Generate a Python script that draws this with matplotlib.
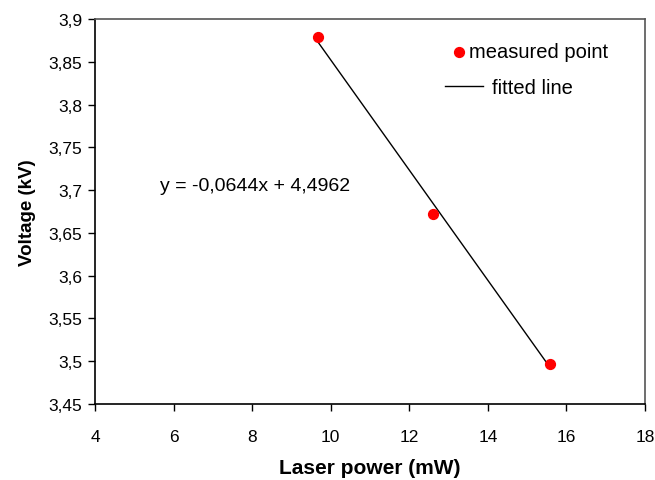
import numpy as np
import matplotlib.pyplot as plt
from matplotlib.ticker import FuncFormatter

plt.rcParams['font.family'] = ['Liberation Sans', 'DejaVu Sans']

# measured data
power = [9.67, 12.6, 15.57]
voltage = [3.879, 3.672, 3.497]

# fit from the chart
slope = -0.0644
intercept = 4.4962
fit_x = np.array([power[0], power[-1]])
fit_y = slope * fit_x + intercept

xticks = [4, 6, 8, 10, 12, 14, 16, 18]
yticks = [3.45, 3.5, 3.55, 3.6, 3.65, 3.7, 3.75, 3.8, 3.85, 3.9]

W, H = 655, 481
fig = plt.figure(figsize=(W / 100, H / 100), dpi=100)
ax = fig.add_axes([95 / W, 1 - 405 / H, 550 / W, 385 / H])

line, = ax.plot(fit_x, fit_y, color='black', linewidth=1, zorder=2)
dots = ax.scatter(power, voltage, color='red', s=50, zorder=3)

ax.set_xlim(4, 18)
ax.set_ylim(3.45, 3.9)
ax.set_xticks(xticks)
ax.set_yticks(yticks)

comma = FuncFormatter(lambda v, p: ('%g' % v).replace('.', ','))
ax.xaxis.set_major_formatter(comma)
ax.yaxis.set_major_formatter(comma)
ax.tick_params(direction='out', length=5, width=1, labelsize=12.5, colors='black')
ax.tick_params(axis='x', pad=13)
ax.tick_params(axis='y', pad=4)

for s in ['left', 'bottom']:
    ax.spines[s].set_color('black')
    ax.spines[s].set_linewidth(1.2)
for s in ['top', 'right']:
    ax.spines[s].set_color('#555555')
    ax.spines[s].set_linewidth(1.2)

ax.set_xlabel('Laser power (mW)', fontsize=15, fontweight='bold', labelpad=10)
ax.set_ylabel('Voltage (kV)', fontsize=13.5, fontweight='bold', labelpad=9)

ax.text(5.65, 3.705, 'y = -0,0644x + 4,4962', fontsize=14, va='center', ha='left')

# legend entries laid out like the original
leg1 = ax.legend([dots], ['measured point'], loc='center left',
                 bbox_to_anchor=(451 / W, 1 - 53 / H), bbox_transform=fig.transFigure,
                 frameon=False, fontsize=14.5, handlelength=0.78, handletextpad=0.12,
                 borderpad=0, borderaxespad=0, scatterpoints=1)
ax.add_artist(leg1)
ax.legend([line], ['fitted line'], loc='center left',
          bbox_to_anchor=(445 / W, 1 - 89 / H), bbox_transform=fig.transFigure,
          frameon=False, fontsize=14.5, handlelength=1.89, handletextpad=0.45,
          borderpad=0, borderaxespad=0)

fig.savefig('out.png', dpi=100)
